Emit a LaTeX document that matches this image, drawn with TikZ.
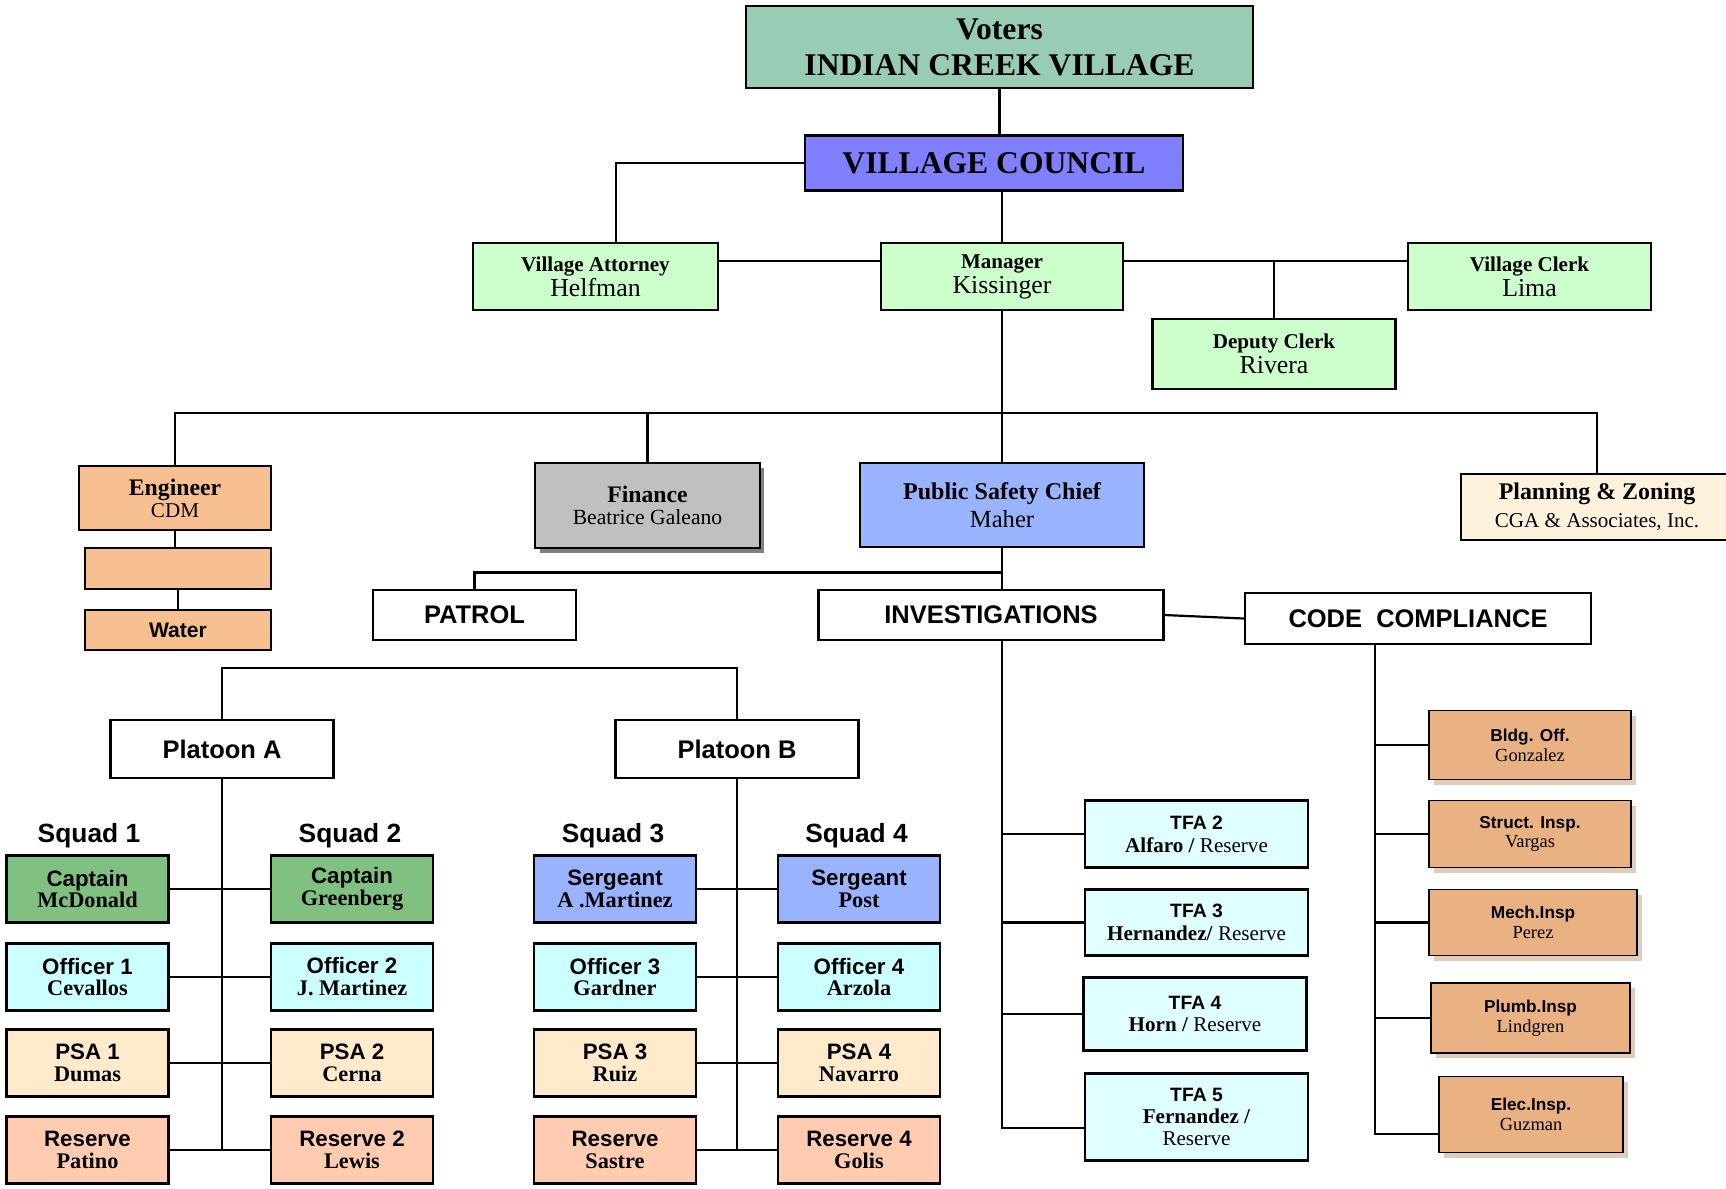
\documentclass[tikz,border=0pt]{standalone}
\usepackage{fontspec}
\setmainfont{Liberation Serif}
\setsansfont{Liberation Sans}
\usetikzlibrary{shadows}

\definecolor{votergreen}{RGB}{153,204,180}
\definecolor{councilblue}{RGB}{128,128,255}
\definecolor{staffgreen}{RGB}{204,255,204}
\definecolor{engpeach}{RGB}{248,192,144}
\definecolor{fingray}{RGB}{192,192,192}
\definecolor{chiefblue}{RGB}{153,179,255}
\definecolor{plancream}{RGB}{255,242,220}
\definecolor{captgreen}{RGB}{128,192,128}
\definecolor{offcyan}{RGB}{204,255,255}
\definecolor{psacream}{RGB}{255,235,204}
\definecolor{respeach}{RGB}{255,204,178}
\definecolor{tfacyan}{RGB}{224,255,255}
\definecolor{codetan}{RGB}{234,178,131}
\definecolor{codeshade}{RGB}{224,204,186}

\newcommand{\staffname}[1]{{\fontsize{14.7}{14.2}\selectfont #1}}
\newcommand{\tfahead}[1]{{\sffamily\bfseries\fontsize{11}{13}\selectfont #1}}
\newcommand{\codehead}[1]{{\sffamily\bfseries\fontsize{9.8}{11.3}\selectfont #1}}

\tikzset{
  orgbox/.style={draw=black, line width=1.2pt, inner sep=0pt, align=center},
  wire/.style={line width=1.25pt},
  staffbox/.style={orgbox, fill=staffgreen, minimum width=4.86cm, minimum height=1.34cm,
    font=\fontsize{12}{14.2}\selectfont},
  engbox/.style={orgbox, line width=1.6pt, fill=engpeach, minimum width=3.72cm},
  unitbox/.style={orgbox, minimum height=1cm, font=\fontsize{14.5}{16}\selectfont\sffamily\bfseries},
  squadlabel/.style={inner sep=0pt, font=\fontsize{15}{16}\selectfont\sffamily\bfseries},
  squadbox/.style={orgbox, line width=1.4pt, minimum width=3.24cm, minimum height=1.34cm,
    font=\fontsize{12.7}{12.5}\selectfont\bfseries},
  tfabox/.style={orgbox, fill=tfacyan, minimum width=4.46cm, font=\fontsize{12}{13}\selectfont},
  codebox/.style={orgbox, line width=0.9pt, fill=codetan,
    drop shadow={shadow xshift=0.09cm, shadow yshift=-0.1cm, fill=codeshade, opacity=1},
    font=\fontsize{10.5}{11.3}\selectfont}
}

\begin{document}
\begin{tikzpicture}[x=0.02cm, y=-0.02cm]
	%%%%% START %%%%%
	\useasboundingbox (0,0) rectangle (1726,1188);

	% council and staff
	\node[orgbox, fill=votergreen, minimum width=10.14cm, minimum height=1.65cm,
	  font=\fontsize{18}{20.4}\selectfont\bfseries] (voters) at (999.5,47) {Voters\\INDIAN CREEK VILLAGE};
	\node[orgbox, fill=councilblue, minimum width=7.56cm, minimum height=1.1cm,
	  font=\fontsize{18}{20}\selectfont\bfseries] (council) at (994,163) {VILLAGE COUNCIL};

	\node[staffbox, minimum width=4.9cm] (attorney) at (595.5,276.5) {\textbf{Village Attorney}\\\staffname{Helfman}};
	\node[staffbox, minimum width=4.84cm] (manager) at (1002,276.5) {\textbf{Manager}\\\staffname{Kissinger}};
	\node[staffbox] (clerk) at (1529.5,276.5) {\textbf{Village Clerk}\\\staffname{Lima}};
	\node[staffbox, minimum height=1.4cm] (deputy) at (1274,354) {\textbf{Deputy Clerk}\\\staffname{Rivera}};

	\coordinate (atty top) at (616,243);
	\coordinate (staff row) at (0,261);
	\coordinate (dept bus) at (0,413);
	\coordinate (chief bus) at (0,572.5);
	\coordinate (platoon bus) at (0,668);
	\coordinate (code spine) at (1375,0);

	\draw[wire] (voters.south) -- (council.north -| voters.south);
	\draw[wire] (council.south -| manager) -- (manager.north);
	\draw[wire] (council.west) -| (atty top);
	\draw[wire] (attorney.east |- staff row) -- (manager.west |- staff row);
	\draw[wire] (manager.east |- staff row) -- (clerk.west |- staff row);
	\draw[wire] (deputy.north) -- (deputy.north |- staff row);

	% departments
	\node[engbox, minimum width=3.84cm, minimum height=1.28cm, font=\fontsize{12}{12.5}\selectfont]
	  (engineer) at (175,498) {{\fontsize{13.5}{12.5}\selectfont\bfseries Engineer}\\CDM};
	\node[engbox, minimum height=0.82cm] (utility) at (178,568.5) {};
	\node[engbox, minimum height=0.8cm, font=\fontsize{12}{12}\selectfont\sffamily\bfseries] (water) at (178,630) {Water};

	\node[orgbox, fill=fingray, minimum width=4.5cm, minimum height=1.7cm,
	  drop shadow={shadow xshift=0.09cm, shadow yshift=-0.1cm, fill=black!50, opacity=1},
	  font=\fontsize{12.3}{12.5}\selectfont] (finance) at (647.5,505.5) {{\fontsize{13.5}{12.5}\selectfont\bfseries Finance}\\Beatrice Galeano};
	\node[orgbox, fill=chiefblue, minimum width=5.68cm, minimum height=1.68cm,
	  font=\fontsize{14}{15.6}\selectfont] (chief) at (1002,505) {{\fontsize{13.7}{15.6}\selectfont\bfseries Public Safety Chief}\\Maher};
	\node[orgbox, fill=plancream, minimum width=5.44cm, minimum height=1.32cm,
	  font=\fontsize{12}{15.6}\selectfont] (planning) at (1597,507) {{\fontsize{13.6}{15.6}\selectfont\bfseries Planning \& Zoning}\\CGA \& Associates, Inc.};

	\draw[wire] (manager.south) -- (chief.north);
	\draw[wire] (engineer.north) |- (planning.north |- dept bus) -- (planning.north);
	\draw[wire] (finance.north) -- (finance.north |- dept bus);
	\draw[wire] (engineer.south) -- (engineer.south |- utility.north);
	\draw[wire] (utility.south) -- (water.north);

	% divisions
	\node[unitbox, minimum width=4.06cm] (patrol) at (474.5,615) {PATROL};
	\node[unitbox, minimum width=6.9cm] (invest) at (991,615) {INVESTIGATIONS};
	\node[unitbox, minimum width=6.92cm, minimum height=1.02cm] (code) at (1418,618.5) {CODE\ \ COMPLIANCE};

	\draw[wire] (chief.south) -- (chief.south |- invest.north);
	\draw[wire] (patrol.north) |- (chief.south |- chief bus);
	\draw[wire] (invest.east) -- (code.west);

	% platoons
	\node[unitbox, minimum width=4.46cm, minimum height=1.16cm] (platoonA) at (222,749) {Platoon A};
	\node[unitbox, minimum width=4.86cm, minimum height=1.16cm] (platoonB) at (737,749) {Platoon B};
	\draw[wire] (platoonA.north) |- (platoonB.north |- platoon bus) -- (platoonB.north);

	\node[squadlabel] (squad1) at (89,835.5) {Squad 1};
	\node[squadlabel] (squad2) at (350,835.5) {Squad 2};
	\node[squadlabel] (squad3) at (613,835.5) {Squad 3};
	\node[squadlabel] (squad4) at (856.5,835.5) {Squad 4};

	\node[squadbox, fill=captgreen] (capt1) at (87.5,889) {{\sffamily Captain}\\McDonald};
	\node[squadbox, fill=offcyan] (off1) at (87.5,977) {{\sffamily Officer 1}\\Cevallos};
	\node[squadbox, fill=psacream] (psa1) at (87.5,1063) {{\sffamily PSA 1}\\Dumas};
	\node[squadbox, fill=respeach] (res1) at (87.5,1150) {{\sffamily Reserve}\\Patino};

	\node[squadbox, fill=captgreen] (capt2) at (352,889) {{\sffamily Captain}\\Greenberg};
	\node[squadbox, fill=offcyan] (off2) at (352,977) {{\sffamily Officer 2}\\J. Martinez};
	\node[squadbox, fill=psacream] (psa2) at (352,1063) {{\sffamily PSA 2}\\Cerna};
	\node[squadbox, fill=respeach] (res2) at (352,1150) {{\sffamily Reserve 2}\\Lewis};

	\node[squadbox, fill=chiefblue] (sgt3) at (615,889) {{\sffamily Sergeant}\\A .Martinez};
	\node[squadbox, fill=offcyan] (off3) at (615,977) {{\sffamily Officer 3}\\Gardner};
	\node[squadbox, fill=psacream] (psa3) at (615,1063) {{\sffamily PSA 3}\\Ruiz};
	\node[squadbox, fill=respeach] (res3) at (615,1150) {{\sffamily Reserve}\\Sastre};

	\node[squadbox, fill=chiefblue] (sgt4) at (859,889) {{\sffamily Sergeant}\\Post};
	\node[squadbox, fill=offcyan] (off4) at (859,977) {{\sffamily Officer 4}\\Arzola};
	\node[squadbox, fill=psacream] (psa4) at (859,1063) {{\sffamily PSA 4}\\Navarro};
	\node[squadbox, fill=respeach] (res4) at (859,1150) {{\sffamily Reserve 4}\\Golis};

	\draw[wire] (platoonA.south) -- (platoonA.south |- res1.east);
	\draw[wire] (capt1.east) -- (capt2.west);
	\draw[wire] (off1.east) -- (off2.west);
	\draw[wire] (psa1.east) -- (psa2.west);
	\draw[wire] (res1.east) -- (res2.west);

	\draw[wire] (platoonB.south) -- (platoonB.south |- res3.east);
	\draw[wire] (sgt3.east) -- (sgt4.west);
	\draw[wire] (off3.east) -- (off4.west);
	\draw[wire] (psa3.east) -- (psa4.west);
	\draw[wire] (res3.east) -- (res4.west);

	% investigations
	\node[tfabox, minimum height=1.34cm] (tfa2) at (1196.5,834) {\tfahead{TFA 2}\\\textbf{Alfaro /} Reserve};
	\node[tfabox, minimum height=1.32cm] (tfa3) at (1196.5,922.5) {\tfahead{TFA 3}\\\textbf{Hernandez/} Reserve};
	\node[tfabox, minimum height=1.46cm] (tfa4) at (1195,1014) {\tfahead{TFA 4}\\\textbf{Horn /} Reserve};
	\node[tfabox, minimum height=1.74cm, font=\fontsize{12}{12.5}\selectfont] (tfa5) at (1196.5,1117) {\tfahead{TFA 5}\\\textbf{Fernandez /}\\Reserve};

	\draw[wire] (invest.south -| chief.south) |- ([yshift=-0.22cm]tfa5.west);
	\draw[wire] (tfa2.west) -- (tfa2.west -| chief.south);
	\draw[wire] (tfa3.west) -- (tfa3.west -| chief.south);
	\draw[wire] (tfa4.west) -- (tfa4.west -| chief.south);

	% code compliance
	\node[codebox, minimum width=4.04cm, minimum height=1.38cm] (bldg) at (1530,745) {\codehead{Bldg. Off.}\\Gonzalez};
	\node[codebox, minimum width=4.04cm, minimum height=1.34cm] (struct) at (1530,834) {\codehead{Struct. Insp.}\\Vargas};
	\node[codebox, minimum width=4.16cm, minimum height=1.32cm] (mech) at (1533,922.5) {\codehead{Mech.Insp}\\Perez};
	\node[codebox, minimum width=3.98cm, minimum height=1.4cm] (plumb) at (1530.5,1018) {\codehead{Plumb.Insp}\\Lindgren};
	\node[codebox, minimum width=3.68cm, minimum height=1.52cm] (elec) at (1531,1114.5) {\codehead{Elec.Insp.}\\Guzman};

	\draw[wire] (code.south -| code spine) |- ([yshift=-0.39cm]elec.west);
	\draw[wire] (bldg.west) -- (bldg.west -| code spine);
	\draw[wire] (struct.west) -- (struct.west -| code spine);
	\draw[wire] (mech.west) -- (mech.west -| code spine);
	\draw[wire] (plumb.west) -- (plumb.west -| code spine);
	%%%%% END %%%%%
\end{tikzpicture}
\end{document}
